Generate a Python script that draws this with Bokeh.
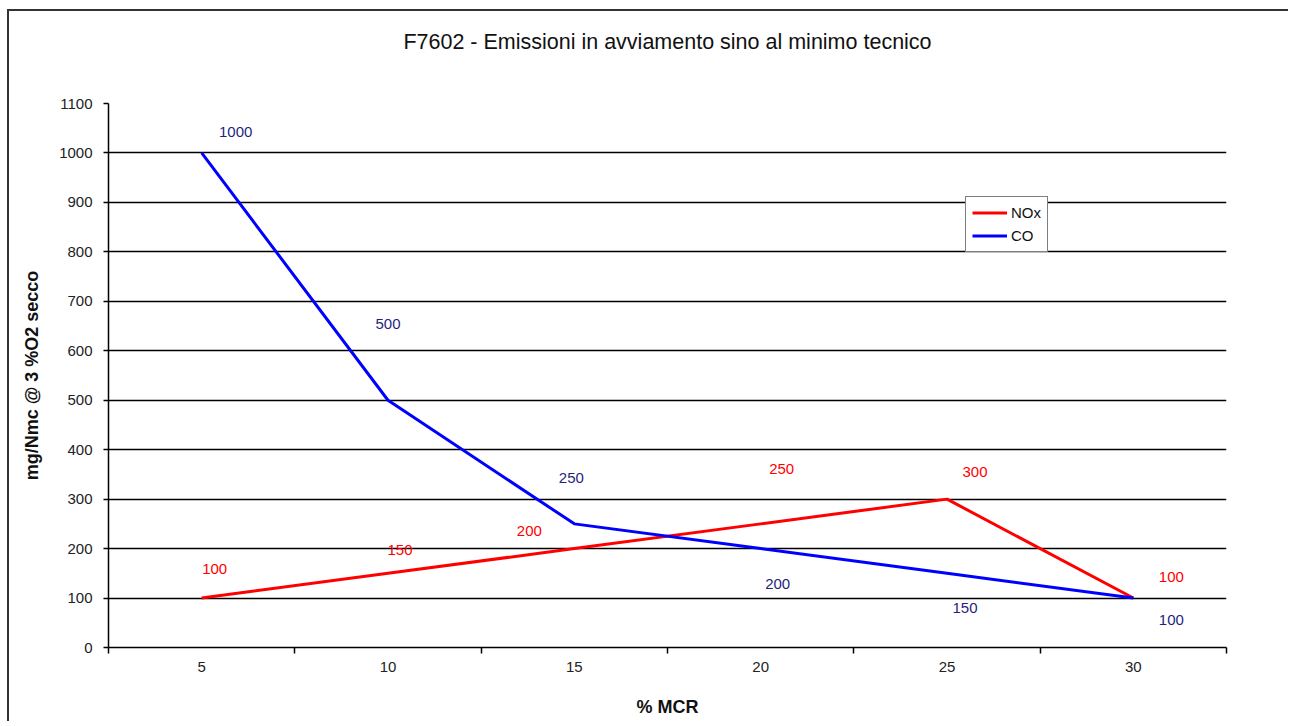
from bokeh.plotting import figure
from bokeh.models import (ColumnDataSource, FixedTicker, Legend, LegendItem, Range1d,
                          LinearAxis)
from bokeh.core.properties import value
from bokeh.embed import file_html
from bokeh.resources import INLINE

# ---- data ----
categories = [5, 10, 15, 20, 25, 30]
nox = [100, 150, 200, 250, 300, 100]
co = [1000, 500, 250, 200, 150, 100]
y_ticks = list(range(0, 1101, 100))
title_text = "F7602 - Emissioni in avviamento sino al minimo tecnico"

# label offsets (pixels) — placement of the data labels
nox_dx = [13, 12, -45, 21, 28, 38]
nox_dy = [-29, -23, -18, -55, -27, -21]
co_dx = [34, 0, -3, 17, 18, 38]
co_dy = [-21, -76, -46, 35, 35, 22]

FONT = "Liberation Sans"

p = figure(width=1281, height=712, output_backend="svg", toolbar_location=None,
           x_range=Range1d(2.5, 32.5), y_range=Range1d(0, 1100),
           min_border_left=99, min_border_right=64, min_border_top=92, min_border_bottom=76)
p.styles = {"border-left": "2px solid #333", "border-top": "2px solid #333",
            "margin-left": "7px", "margin-top": "9px"}
p.outline_line_color = None
p.background_fill_color = "white"
p.title.visible = False

# x axis (below): labels at category centres, tick marks at boundaries
xa = p.below[0]
xa.ticker = FixedTicker(ticks=categories,
                        minor_ticks=[c - 2.5 for c in categories] + [categories[-1] + 2.5])
xa.major_tick_out = 0
xa.major_tick_in = 0
xa.minor_tick_out = 6
xa.minor_tick_in = 0
xa.minor_tick_line_color = "black"
xa.minor_tick_line_width = 1.5
xa.axis_line_color = "black"
xa.axis_line_width = 1.5
xa.major_label_text_font = FONT
xa.major_label_text_font_size = "15px"
xa.major_label_text_color = "#222"
xa.major_label_standoff = 8
xa.axis_label = "% MCR"
xa.axis_label_text_font = FONT
xa.axis_label_text_font_size = "18px"
xa.axis_label_text_font_style = "bold"
xa.axis_label_text_color = "#111"
xa.axis_label_standoff = 22

ya = p.left[0]
ya.ticker = FixedTicker(ticks=y_ticks)
ya.minor_tick_line_color = None
ya.major_tick_out = 5
ya.major_tick_in = 0
ya.major_tick_line_color = "black"
ya.major_tick_line_width = 1.5
ya.axis_line_color = "black"
ya.axis_line_width = 1.5
ya.major_label_text_font = FONT
ya.major_label_text_font_size = "15px"
ya.major_label_text_color = "#222"
ya.major_label_standoff = 11
ya.axis_label = "mg/Nmc @ 3 %O2 secco"
ya.axis_label_text_font = FONT
ya.axis_label_text_font_size = "18px"
ya.axis_label_text_font_style = "bold"
ya.axis_label_text_color = "#111"
ya.axis_label_standoff = 14

# chart title: label of a bare axis above the plotting area
title_axis = LinearAxis(ticker=FixedTicker(ticks=[]), axis_line_color=None,
                        major_tick_out=0, major_tick_in=0, minor_tick_out=0, minor_tick_in=0,
                        major_tick_line_color=None, minor_tick_line_color=None,
                        axis_label=title_text, axis_label_standoff=50,
                        axis_label_text_font=FONT, axis_label_text_font_size="21.5px",
                        axis_label_text_font_style="normal", axis_label_text_color="#111")
p.add_layout(title_axis, "above")

p.xgrid.grid_line_color = None
p.ygrid.ticker = FixedTicker(ticks=y_ticks)
p.ygrid.grid_line_color = "black"
p.ygrid.grid_line_width = 1.4

src = ColumnDataSource(dict(x=categories, nox=nox, co=co,
                            nox_t=[str(v) for v in nox], co_t=[str(v) for v in co],
                            nox_dx=nox_dx, nox_dy=nox_dy, co_dx=co_dx, co_dy=co_dy))

r_nox = p.line("x", "nox", source=src, line_color="#FF0000", line_width=3)
r_co = p.line("x", "co", source=src, line_color="#0000FF", line_width=3)

p.text("x", "nox", text="nox_t", source=src, x_offset="nox_dx", y_offset="nox_dy",
       text_color="#FF0000", text_font=value(FONT), text_font_size="15px",
       text_align="center", text_baseline="middle")
p.text("x", "co", text="co_t", source=src, x_offset="co_dx", y_offset="co_dy",
       text_color="#1F1F80", text_font=value(FONT), text_font_size="15px",
       text_align="center", text_baseline="middle")

legend = Legend(items=[LegendItem(label="NOx", renderers=[r_nox]),
                       LegendItem(label="CO", renderers=[r_co])],
                location=(857, 395))
legend.border_line_color = "black"
legend.border_line_width = 1
legend.background_fill_color = "white"
legend.background_fill_alpha = 1
legend.label_text_font = FONT
legend.label_text_font_size = "15px"
legend.label_text_color = "#111"
legend.glyph_width = 35
legend.glyph_height = 19
legend.label_standoff = 4
legend.label_height = 19
legend.spacing = 4
legend.padding = 6
legend.margin = 0
p.add_layout(legend, "center")

open("out.html", "w").write(file_html(p, INLINE))
